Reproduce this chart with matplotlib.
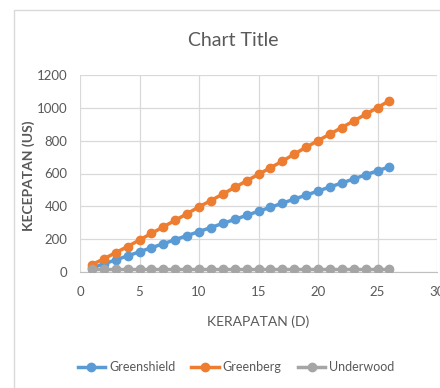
import matplotlib.pyplot as plt
from matplotlib.patches import Rectangle

plt.rcParams['font.family'] = ['Lato', 'DejaVu Sans']

kerapatan = list(range(1, 27))
greenshield = [25, 49, 74, 98, 123, 148, 172, 197, 222, 246, 271, 296, 320,
               345, 370, 394, 419, 444, 468, 493, 518, 542, 567, 592, 616, 641]
greenberg = [45, 80, 118, 155, 195, 235, 275, 315, 355, 397, 435, 475, 515,
             555, 595, 635, 675, 718, 760, 800, 840, 880, 920, 960, 1002, 1043]
underwood = [19] * 26

series_names = ['Greenshield', 'Greenberg', 'Underwood']
colors = ['#5B9BD5', '#ED7D31', '#A5A5A5']
text_color = '#595959'

fig = plt.figure(figsize=(4.4, 3.88), dpi=100)
# chart area border
fig.patches.append(Rectangle((14 / 440, -0.1), 1.0, 1 - 10 / 388 + 0.1,
                             transform=fig.transFigure, fill=False,
                             edgecolor='#D9D9D9', linewidth=1.0))

ax = fig.add_axes([80 / 440, 1 - 272 / 388, 357 / 440, 197 / 388])
for name, values, c in zip(series_names, [greenshield, greenberg, underwood], colors):
    ax.plot(kerapatan, values, color=c, linewidth=2.5, marker='o',
            markersize=6, label=name, zorder=3)

ax.set_xlim(0, 30)
ax.set_ylim(0, 1200)
ax.set_xticks(range(0, 31, 5))
ax.set_yticks(range(0, 1201, 200))
ax.grid(True, color='#D9D9D9', linewidth=0.9)
ax.set_axisbelow(True)
for s in ['top', 'right', 'left']:
    ax.spines[s].set_visible(False)
ax.spines['bottom'].set_color('#BFBFBF')
ax.tick_params(axis='y', length=0, labelsize=9.5, labelcolor=text_color, pad=9)
ax.tick_params(axis='x', length=0, labelsize=9.5, labelcolor=text_color, pad=10)

ax.set_xlabel('KERAPATAN (D)', fontsize=10, color=text_color)
ax.xaxis.set_label_coords(0.499, -0.223)
ax.set_ylabel('KECEPATAN (US)', fontsize=10, color=text_color, fontweight='bold')
ax.yaxis.set_label_coords(-0.126, 0.49)

fig.text(233 / 440, 1 - 40 / 388, 'Chart Title', ha='center', va='center',
         fontsize=14, color=text_color)

ax.legend(loc='center', bbox_to_anchor=(0.437, -0.482), ncol=3,
          frameon=False, fontsize=9, labelcolor=text_color,
          handlelength=2.2, columnspacing=1.3, handletextpad=0.3)

fig.savefig('out.png', dpi=100)
